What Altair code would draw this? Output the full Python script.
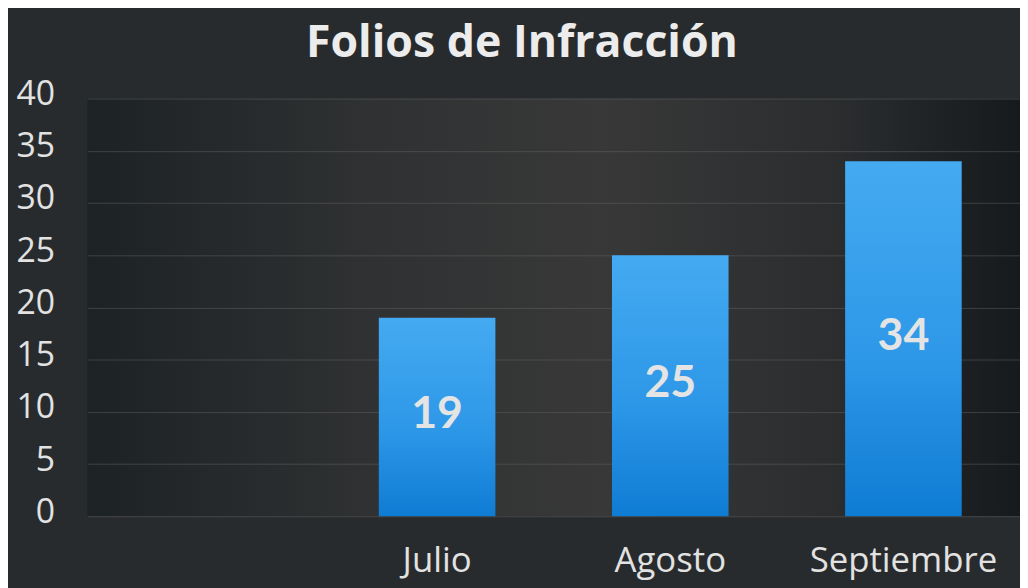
import altair as alt
import pandas as pd

# Data
months = ["Julio", "Agosto", "Septiembre"]
folios = [19, 25, 34]
category_domain = [" ", "Julio", "Agosto", "Septiembre"]
y_ticks = [0, 5, 10, 15, 20, 25, 30, 35, 40]

df = pd.DataFrame({"mes": months, "folios": folios})

bar_gradient = alt.Gradient(
    gradient="linear",
    stops=[
        alt.GradientStop(color="#44aaf1", offset=0),
        alt.GradientStop(color="#2e98e8", offset=0.55),
        alt.GradientStop(color="#0f7cd4", offset=1),
    ],
    x1=0, x2=0, y1=0, y2=1,
)

x_enc = alt.X(
    "mes:N",
    scale=alt.Scale(domain=category_domain, paddingInner=0.5, paddingOuter=0.25),
    sort=category_domain,
    axis=alt.Axis(
        title=None, labelAngle=0, ticks=False, tickSize=0, domain=False, grid=False,
        labelFont="Open Sans", labelFontSize=35, labelColor="#e2e2e2",
        labelBaseline="alphabetic", labelPadding=56, labelLimit=400,
    ),
)

y_enc = alt.Y(
    "folios:Q",
    scale=alt.Scale(domain=[0, 40]),
    axis=alt.Axis(
        title=None, values=y_ticks, ticks=False, tickSize=0, domain=False,
        labelFont="Open Sans", labelFontSize=34, labelColor="#e2e2e2",
        labelPadding=33, labelOffset=-4,
        gridColor="#6a6a6a", gridOpacity=0.45, gridWidth=1,
    ),
)

bars = alt.Chart(df).mark_bar(color=bar_gradient).encode(x=x_enc, y=y_enc)

labels = (
    alt.Chart(df)
    .transform_calculate(mid="datum.folios / 2")
    .mark_text(font="Lato", fontSize=45, fontWeight="bold", color="#e4e4e4",
               baseline="middle", dy=-3)
    .encode(x=alt.X("mes:N", scale=alt.Scale(domain=category_domain), sort=category_domain),
            y=alt.Y("mid:Q"), text="folios:Q")
)

chart = (
    alt.layer(bars, labels)
    .properties(
        width=940,
        height=421,
        title=alt.TitleParams(
            "Folios de Infracción", font="Open Sans", fontSize=45, fontWeight="bold",
            color="#ececec", anchor="middle", dx=-32, baseline="alphabetic", offset=-24,
        ),
        autosize=alt.AutoSizeParams(type="none"),
        padding={"left": 80, "top": 89, "right": 0, "bottom": 71},
        background="#282b2d",
    )
    .configure_view(
        stroke=None,
        fill={"expr": "{gradient: 'linear', x1: 0, y1: 0, x2: 1, y2: 0, stops: [{offset: 0, color: '#1d2225'}, {offset: 0.3, color: '#2f3132'}, {offset: 0.55, color: '#383838'}, {offset: 0.8, color: '#2b2d2f'}, {offset: 1, color: '#161a1d'}]}"},
    )
)

chart.save("out.html", embed_options={"renderer": "svg", "actions": False})
